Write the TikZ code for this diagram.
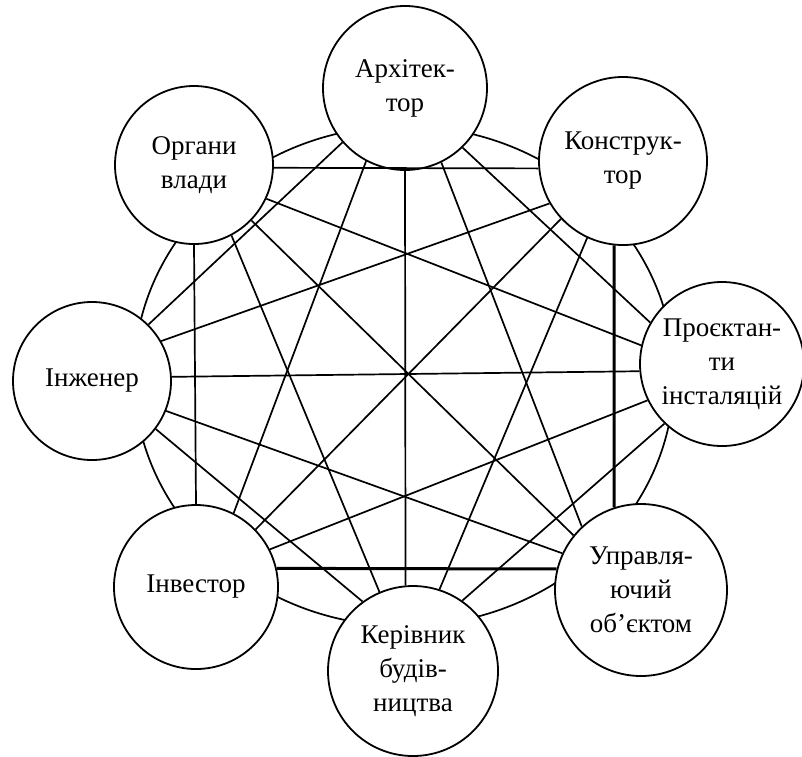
\documentclass[tikz,border=0pt]{standalone}
\usepackage{fontspec}
\setmainfont{Liberation Serif}

\tikzset{
  member/.style={draw, circle, fill=white, line width=0.9pt, inner sep=0pt,
    minimum size=82pt, align=center, font=\fontsize{13.5}{17}\selectfont},
  link/.style={line width=0.85pt},
  boldlink/.style={line width=1.5pt}
}

\begin{document}
\begin{tikzpicture}[x=0.5pt,y=-0.5pt]
          \useasboundingbox (0,0) rectangle (802,756);

          % outer ring
          \draw[link] (404,376) ellipse [x radius=270, y radius=250];

          \node[member] (arch) at (405,88) {Архітек-\\тор};
          \node[member, minimum size=84pt] (constr) at (623,161) {Конструк-\\тор};
          \node[member] (design) at (722,364) {Проєктан-\\ти\\інсталяцій};
          \node[member, minimum size=86pt] (manager) at (641,590) {Управля-\\ючий\\об’єктом};
          \node[member, minimum size=85pt] (builder) at (413,671) {Керівник\\будів-\\ництва};
          \node[member] (investor) at (196,587) {Інвестор};
          \node[member, minimum size=79pt] (engineer) at (92,381) {Інженер};
          \node[member, minimum size=79pt] (authority) at (194,165) {Органи\\влади};

          \draw[link] (arch.-139) -- (engineer.45);
          \draw[link] (arch.-118) -- (investor.63);
          \draw[link] (arch.-90) -- (builder.95);
          \draw[link] (arch.-64) -- (manager.133);
          \draw[link] (arch.-46) -- (design.150);

          \draw[link] (constr.185) -- (authority.-2);
          \draw[link] (constr.210) -- (engineer.30);
          \draw[link] (constr.223) -- (investor.44);
          \draw[link] (constr.245) -- (builder.72);
          \draw[boldlink] (constr.264) -- (manager.108);

          \draw[link] (design.167) -- (authority.-25);
          \draw[link] (design.185) -- (engineer.3);
          \draw[link] (design.206) -- (investor.27);
          \draw[link] (design.226) -- (builder.55);

          \draw[link] (manager.141) -- (authority.-44);
          \draw[link] (manager.155) -- (engineer.-22);
          \draw[boldlink] (manager.166) -- (investor.13);

          \draw[link] (builder.126) -- (engineer.-37);
          \draw[link] (builder.113) -- (authority.-62);

          \draw[link] (investor.90) -- (authority.-90);
        \end{tikzpicture}
\end{document}
